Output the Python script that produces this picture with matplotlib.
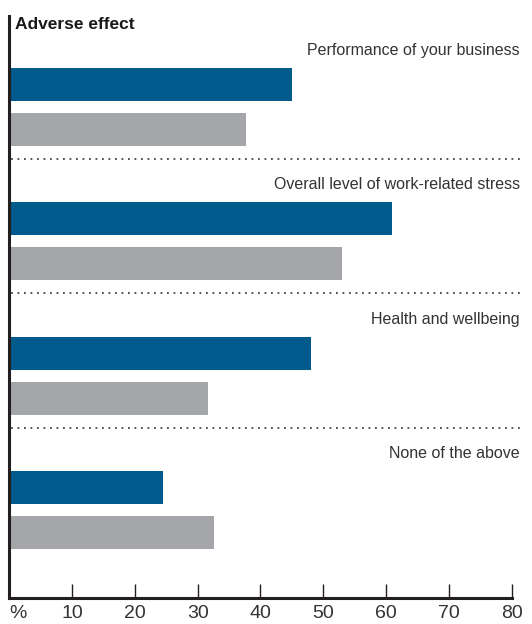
import matplotlib
matplotlib.use("Agg")
import matplotlib.pyplot as plt

categories = [
    "Performance of your business",
    "Overall level of work-related stress",
    "Health and wellbeing",
    "None of the above",
]
blue_values = [45, 61, 48, 24.5]
grey_values = [37.7, 53, 31.6, 32.6]
tick_values = [0, 10, 20, 30, 40, 50, 60, 70, 80]
tick_labels = ["%", "10", "20", "30", "40", "50", "60", "70", "80"]

BLUE = "#005a8b"
GREY = "#a5a6a9"
TEXT = "#333333"
AXIS = "#231f20"

plt.rcParams["font.family"] = ["Liberation Sans", "DejaVu Sans"]

fig = plt.figure(figsize=(5.32, 6.24), dpi=100)
ax = fig.add_axes([0.0173, 0.0417, 0.9445, 0.9327])

bar_h = 0.245
grey_off = 0.335
for i, cat in enumerate(categories):
    ax.barh(i, blue_values[i], height=bar_h, color=BLUE, zorder=2)
    ax.barh(i + grey_off, grey_values[i], height=bar_h, color=GREY, zorder=2)
    ax.text(1.016, i - 0.255, cat, transform=ax.get_yaxis_transform(),
            ha="right", va="center", fontsize=11.5, color=TEXT)
    if i < len(categories) - 1:
        ax.plot([0.003, 1.022], [i + 0.554, i + 0.554],
                transform=ax.get_yaxis_transform(), clip_on=False,
                color="#444444", lw=1.3, ls=(0, (1, 2.6)))

ax.set_xlim(0, 80)
ax.set_ylim(3.82, -0.51)

for s in ["top", "right"]:
    ax.spines[s].set_visible(False)
for s in ["left", "bottom"]:
    ax.spines[s].set_linewidth(2.2)
    ax.spines[s].set_color(AXIS)

ax.set_yticks([])
ax.set_xticks(tick_values)
ax.set_xticklabels(tick_labels)
ax.tick_params(axis="x", direction="in", length=10, width=1, color=AXIS,
               labelsize=14, labelcolor=TEXT, pad=5)
# the "%" marker sits just right of the axis origin
ax.get_xticklabels()[0].set_horizontalalignment("left")

fig.text(0.028, 0.960, "Adverse effect", ha="left", va="center",
         fontsize=12.5, fontweight="bold", color="#1a1a1a")

fig.savefig("out.png", dpi=100)
